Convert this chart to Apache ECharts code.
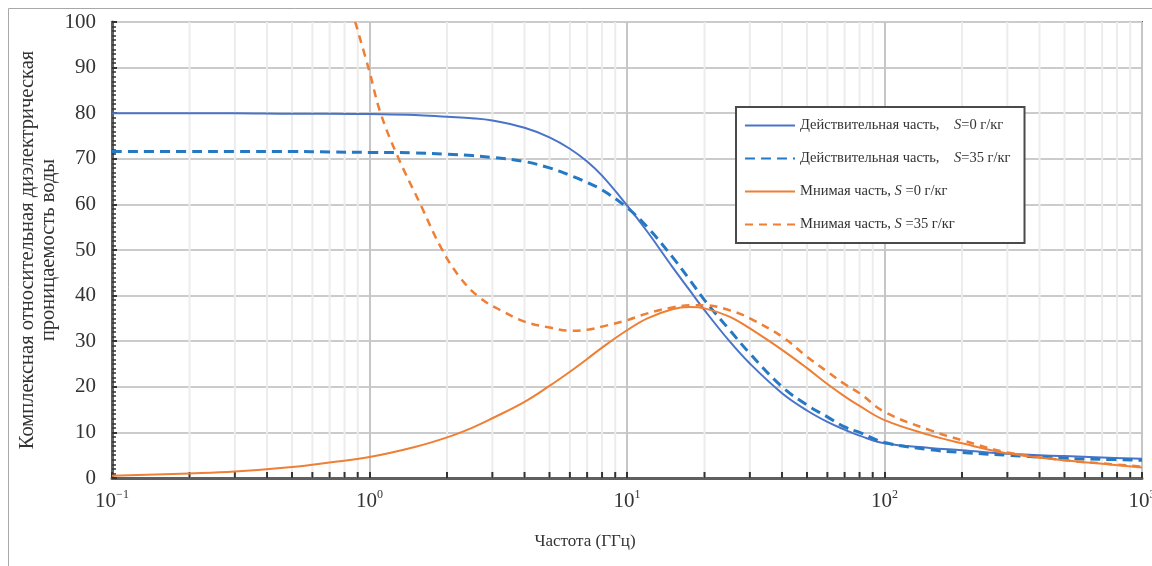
<!DOCTYPE html>
<html>
<head>
<meta charset="utf-8">
<script src="https://cdn.jsdelivr.net/npm/echarts@6/dist/echarts.min.js"></script>
<style>
html,body{margin:0;padding:0;background:#fff;}
#chart{width:1152px;height:566px;}
</style>
</head>
<body>
<div id="chart"></div>
<script>
// ---- data ----
const freqs = [0.1, 0.2, 0.3, 0.5, 0.7, 1, 1.5, 2, 2.5, 3, 4, 5, 6, 7, 8, 10, 12, 15, 17.5, 20, 25, 30, 40, 50, 60, 70, 80, 100, 150, 200, 300, 500, 700, 1000];
const realS0  = [80.0, 80.0, 80.0, 79.9, 79.9, 79.8, 79.6, 79.2, 78.9, 78.4, 76.8, 74.7, 72.2, 69.4, 66.3, 59.8, 54.0, 46.3, 41.2, 36.8, 30.0, 25.1, 18.6, 14.8, 12.3, 10.6, 9.3, 7.6, 6.6, 6.1, 5.3, 4.8, 4.5, 4.2];
const realS35 = [71.6, 71.6, 71.6, 71.6, 71.5, 71.4, 71.3, 71.0, 70.7, 70.3, 69.4, 68.0, 66.4, 64.8, 63.2, 59.3, 55.0, 48.5, 43.5, 39.0, 32.5, 27.3, 20.0, 16.0, 13.4, 11.2, 10.0, 7.8, 6.2, 5.6, 5.0, 4.3, 4.1, 3.9];
const imagS0  = [0.5, 1.0, 1.4, 2.4, 3.4, 4.6, 6.8, 8.9, 11.0, 13.1, 16.7, 20.2, 23.3, 26.1, 28.6, 32.4, 35.0, 37.0, 37.5, 37.2, 35.4, 32.8, 28.1, 24.1, 20.6, 17.9, 15.8, 12.7, 9.4, 7.6, 5.4, 3.9, 3.1, 2.3];
const freqsImag35 = [0.88, 1, 1.1, 1.28, 1.58, 1.9, 2.26, 2.7, 3.23, 4, 5, 6, 7, 8, 10, 12, 15, 18, 20, 25, 30, 40, 50, 60, 70, 80, 100, 150, 200, 300, 500, 700, 1000];
const imagS35 = [100, 89.1, 80.3, 70.8, 59.9, 50.4, 43.8, 39.4, 36.8, 34.3, 33.0, 32.3, 32.5, 33.2, 34.6, 36.1, 37.4, 37.9, 37.9, 36.8, 35.0, 31.0, 26.6, 23.3, 20.6, 18.6, 14.5, 10.5, 8.3, 5.6, 3.9, 3.2, 2.5];

const seriesNames = [
  'Действительная часть, S=0 г/кг',
  'Действительная часть, S=35 г/кг',
  'Мнимая часть, S=0 г/кг',
  'Мнимая часть, S=35 г/кг'
];
const legendLabels = [
  'Действительная часть,    {i|S}=0 г/кг',
  'Действительная часть,    {i|S}=35 г/кг',
  'Мнимая часть, {i|S} =0 г/кг',
  'Мнимая часть, {i|S} =35 г/кг'
];
const yAxisTitle = 'Комплексная относительная диэлектрическая\nпроницаемость воды';
const xAxisTitle = 'Частота (ГГц)';
const decadeMultipliers = [2, 3, 4, 5, 6, 7, 8, 9];
const decades = [0.1, 1, 10, 100];

const minorFreqs = [];
decades.forEach(d => decadeMultipliers.forEach(m => minorFreqs.push([+(d * m).toPrecision(3), 0])));

const pairs = (xs, ys) => xs.map((x, i) => [x, ys[i]]);
const SERIF = '"Liberation Serif", "DejaVu Serif", serif';

const chart = echarts.init(document.getElementById('chart'), null, {renderer: 'canvas'});
const lineCommon = {type: 'line', z: 5, showSymbol: false, symbol: 'none', smooth: 0.4};
const option = {
  animation: false,
  backgroundColor: '#ffffff',
  graphic: [{
    type: 'rect', z: -10, silent: true,
    shape: {x: 8.5, y: 8.5, width: 1200, height: 700},
    style: {fill: 'none', stroke: '#a8a8a8', lineWidth: 1}
  }],
  grid: {left: 112, right: 10, top: 22, bottom: 88, outerBoundsMode: 'none', containLabel: false,
         show: true, borderColor: '#5f5f5f', borderWidth: 2, backgroundColor: 'transparent'},
  legend: {
    data: seriesNames,
    orient: 'vertical',
    left: 736, top: 107,
    padding: [11, 14, 11, 8],
    itemWidth: 50, itemHeight: 14, itemGap: 18,
    itemStyle: {opacity: 0},
    backgroundColor: '#ffffff',
    borderColor: '#4a4a4a', borderWidth: 2, borderRadius: 0,
    formatter: name => legendLabels[seriesNames.indexOf(name)],
    textStyle: {
      fontFamily: SERIF, fontSize: 14.5, color: '#333',
      rich: {i: {fontFamily: SERIF, fontSize: 14.5, fontStyle: 'italic', color: '#333'}}
    }
  },
  xAxis: {
    type: 'log', logBase: 10, min: 0.1, max: 1000,
    name: xAxisTitle, nameLocation: 'middle', nameGap: 55, nameMoveOverlap: false,
    nameTextStyle: {fontFamily: SERIF, fontSize: 17, color: '#333', padding: [0, 84, 0, 0]},
    axisLine: {show: true, lineStyle: {color: '#5f5f5f', width: 3}},
    axisTick: {show: true, inside: true, length: 6, lineStyle: {color: '#333', width: 2}},
    splitLine: {show: true, lineStyle: {color: '#c6c6c6', width: 2}},
    axisLabel: {
      margin: 11,
      formatter: v => {
        const e = Math.round(Math.log10(v));
        return '{b|10}{s|' + (e < 0 ? '−' + (-e) : e) + '}';
      },
      rich: {
        b: {fontFamily: SERIF, fontSize: 21, color: '#333'},
        s: {fontFamily: SERIF, fontSize: 12, color: '#333', verticalAlign: 'bottom', padding: [0, 0, 12, 0]}
      }
    }
  },
  yAxis: {
    type: 'value', min: 0, max: 100, interval: 10,
    name: yAxisTitle, nameLocation: 'middle', nameGap: 53, nameRotate: 90, nameMoveOverlap: false,
    nameTextStyle: {fontFamily: SERIF, fontSize: 20.5, color: '#333', lineHeight: 21},
    axisLine: {show: true, lineStyle: {color: '#5f5f5f', width: 3}},
    axisTick: {show: true, inside: true, length: 5, lineStyle: {color: '#333', width: 2}},
    minorTick: {show: true, splitNumber: 10, length: 4, lineStyle: {color: '#333', width: 1.5}},
    splitLine: {show: true, lineStyle: {color: '#cbcbcb', width: 2}},
    axisLabel: {margin: 16, fontFamily: SERIF, fontSize: 21, color: '#333'}
  },
  series: [
    {
      type: 'custom', name: 'minorGrid', silent: true, z: 1,
      data: minorFreqs, encode: {x: 0, y: 1},
      renderItem: (params, api) => {
        const f = api.value(0);
        const top = api.coord([f, 100]);
        const bot = api.coord([f, 0]);
        return {type: 'group', children: [
          {type: 'line', shape: {x1: top[0], y1: top[1], x2: bot[0], y2: bot[1]}, style: {stroke: '#ececec', lineWidth: 2}},
          {type: 'line', shape: {x1: bot[0], y1: bot[1], x2: bot[0], y2: bot[1] - 6}, style: {stroke: '#333', lineWidth: 2}}
        ]};
      }
    },
    Object.assign({}, lineCommon, {
      name: seriesNames[0], data: pairs(freqs, realS0),
      lineStyle: {color: '#4a74c9', width: 2}, itemStyle: {color: '#4a74c9'}
    }),
    Object.assign({}, lineCommon, {
      name: seriesNames[1], data: pairs(freqs, realS35),
      lineStyle: {color: '#2478c4', width: 3, type: [10, 6]}, itemStyle: {color: '#2478c4'}
    }),
    Object.assign({}, lineCommon, {
      name: seriesNames[2], data: pairs(freqs, imagS0),
      lineStyle: {color: '#ee7f35', width: 2}, itemStyle: {color: '#ee7f35'}
    }),
    Object.assign({}, lineCommon, {
      name: seriesNames[3], data: pairs(freqsImag35, imagS35),
      lineStyle: {color: '#ee7f35', width: 2.5, type: [8, 6]}, itemStyle: {color: '#ee7f35'}
    })
  ]
};
chart.setOption(option);
</script>
</body>
</html>
